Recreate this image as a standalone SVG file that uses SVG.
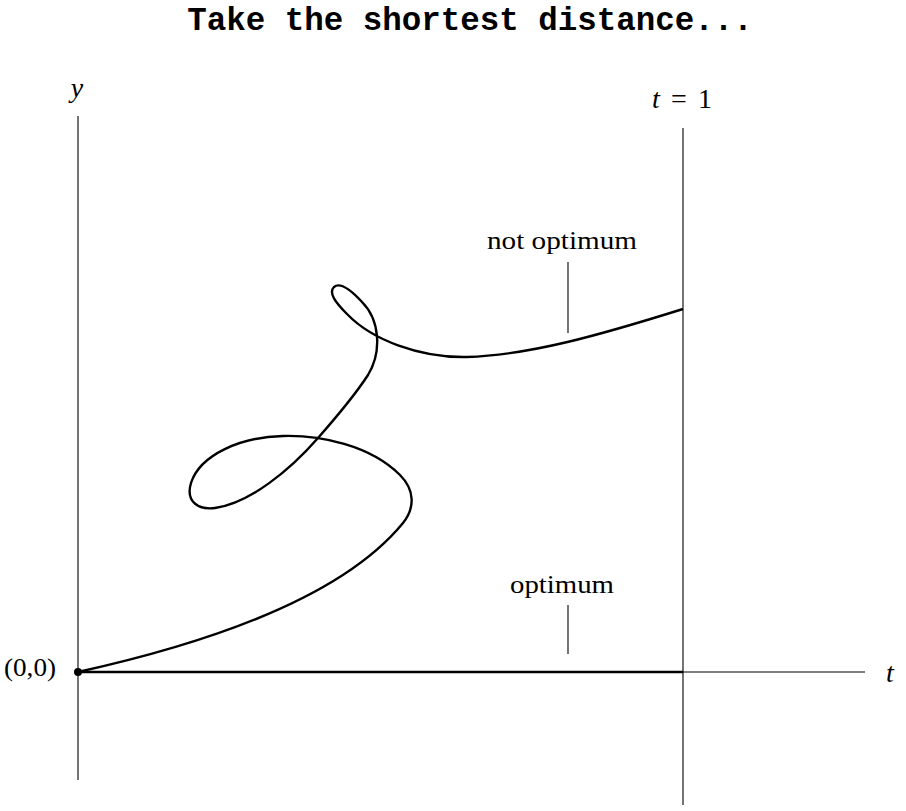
<svg xmlns="http://www.w3.org/2000/svg" width="906" height="811" viewBox="0 0 906 811">
<style>
.axis{stroke:#000;stroke-width:1.1;fill:none}
.path{stroke:#000;stroke-width:2.4;fill:none;stroke-linejoin:round}
.tick{stroke:#000;stroke-width:1.1}
.lbl{font-family:"Liberation Serif","Times New Roman",serif;font-size:25px;fill:#000}
.math{font-family:"Liberation Serif","Times New Roman",serif;font-style:italic;font-size:28px;fill:#000}
.title{font-family:"Liberation Mono","Courier New",monospace;font-weight:bold;font-size:32.5px;fill:#000}
</style>
<rect width="906" height="811" fill="#fff"/>
<text class="title" x="470" y="30" text-anchor="middle">Take the shortest distance...</text>
<g id="axes">
<line class="axis" x1="78" y1="116" x2="78" y2="780"/>
<line class="axis" x1="78" y1="672" x2="865" y2="672"/>
<line class="axis" x1="683" y1="128" x2="683" y2="805"/>
</g>
<g id="connectors">
<line class="path" x1="78" y1="672" x2="683" y2="672"/>
<path class="path" d="M78,672 C200,645 340,600 403,523 C415,508 415,490 400,475 C370,445 320,435 283,436 C240,437 200,455 191,483 C185,503 200,510 215,508 C250,503 290,470 318,438 C340,413 355,395 368,375 C382,352 380,320 362,302 C350,289 340,282 334,287 C328,293 336,303 347,314 C372,340 420,358 467,357 C530,355 600,335 683,309"/>
<line class="tick" x1="568" y1="262" x2="568" y2="333"/>
<line class="tick" x1="568" y1="605" x2="568" y2="654"/>
</g>
<g id="origin">
<circle cx="78" cy="672" r="4" fill="#000"/>
<text class="lbl" x="4" y="676" textLength="52" lengthAdjust="spacingAndGlyphs">(0,0)</text>
</g>
<g id="label-y"><text class="math" x="77" y="97" text-anchor="middle">y</text></g>
<g id="label-t"><text class="math" x="890" y="682" text-anchor="middle">t</text></g>
<g id="label-t1"><text class="math" x="682" y="108" text-anchor="middle" textLength="60" lengthAdjust="spacing">t <tspan font-style="normal">= 1</tspan></text></g>
<g id="label-not-optimum"><text class="lbl" x="562" y="249" text-anchor="middle" textLength="150" lengthAdjust="spacingAndGlyphs">not optimum</text></g>
<g id="label-optimum"><text class="lbl" x="562" y="593" text-anchor="middle" textLength="104" lengthAdjust="spacingAndGlyphs">optimum</text></g>
</svg>
